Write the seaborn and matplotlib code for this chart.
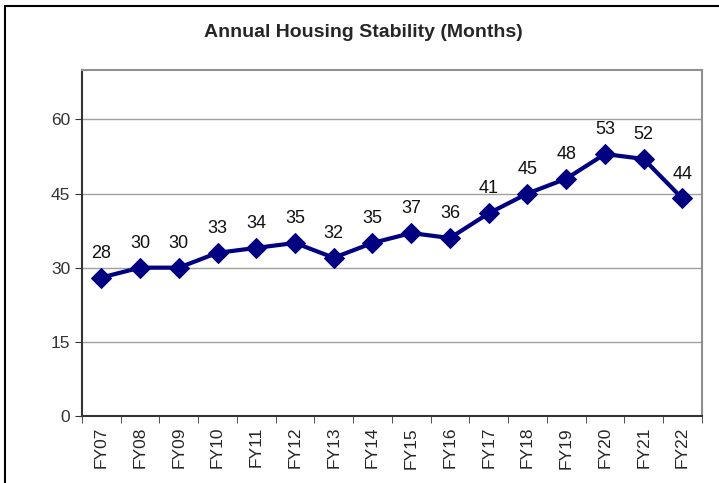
import pandas as pd
import seaborn as sns
import matplotlib.pyplot as plt
from matplotlib.patches import Rectangle

years = ["FY07", "FY08", "FY09", "FY10", "FY11", "FY12", "FY13", "FY14",
         "FY15", "FY16", "FY17", "FY18", "FY19", "FY20", "FY21", "FY22"]
months = [28, 30, 30, 33, 34, 35, 32, 35, 37, 36, 41, 45, 48, 53, 52, 44]

df = pd.DataFrame({"Year": years, "Months": months})
df["pos"] = range(len(df))

sns.set_style("white")
plt.rcParams['font.family'] = ['Liberation Sans', 'DejaVu Sans']

fig = plt.figure(figsize=(7.19, 4.83), dpi=100)
ax = fig.add_axes([0.114, 0.139, 0.862, 0.716])

# gridlines
for v in [15, 30, 45, 60]:
    ax.axhline(v, color="#a0a0a0", lw=1, zorder=0)

sns.lineplot(x="pos", y="Months", data=df, ax=ax, color="#000080", lw=3,
             marker="D", markersize=10, markeredgecolor="#000080", zorder=3)

for i, v in enumerate(months):
    ax.text(i, v + 3.2, str(v), ha="center", va="bottom", fontsize=13, color="#111111")

ax.set_xlim(-0.5, len(years) - 0.5)
ax.set_ylim(0, 70)
ax.set_yticks([0, 15, 30, 45, 60])
ax.tick_params(axis="y", labelsize=12.5, length=5, direction="out", left=True, color="#333333", labelcolor="#333333")

# category labels centered, ticks between categories
ax.set_xticks(range(len(years)))
ax.set_xticklabels(years, rotation=90, fontsize=12.5)
ax.tick_params(axis="x", which="major", length=0, pad=8)
ax.set_xticks([i - 0.5 for i in range(len(years) + 1)], minor=True)
ax.tick_params(axis="x", which="minor", length=5, direction="out", bottom=True, color="#333333")

ax.set_xlabel("")
ax.set_ylabel("")

for s in ["left", "bottom"]:
    ax.spines[s].set_color("#333333")
    ax.spines[s].set_linewidth(1.5)
for s in ["top", "right"]:
    ax.spines[s].set_color("#909090")
    ax.spines[s].set_linewidth(1.5)

fig.text(0.505, 0.932, "Annual Housing Stability (Months)", ha="center", va="center",
         fontsize=14, fontweight="bold")

# chart-area border
fig.patches.append(Rectangle((0.007, -0.05), 1.1, 1.037, transform=fig.transFigure,
                             fill=False, edgecolor="black", lw=1.5))

plt.savefig("out.png", dpi=100)
